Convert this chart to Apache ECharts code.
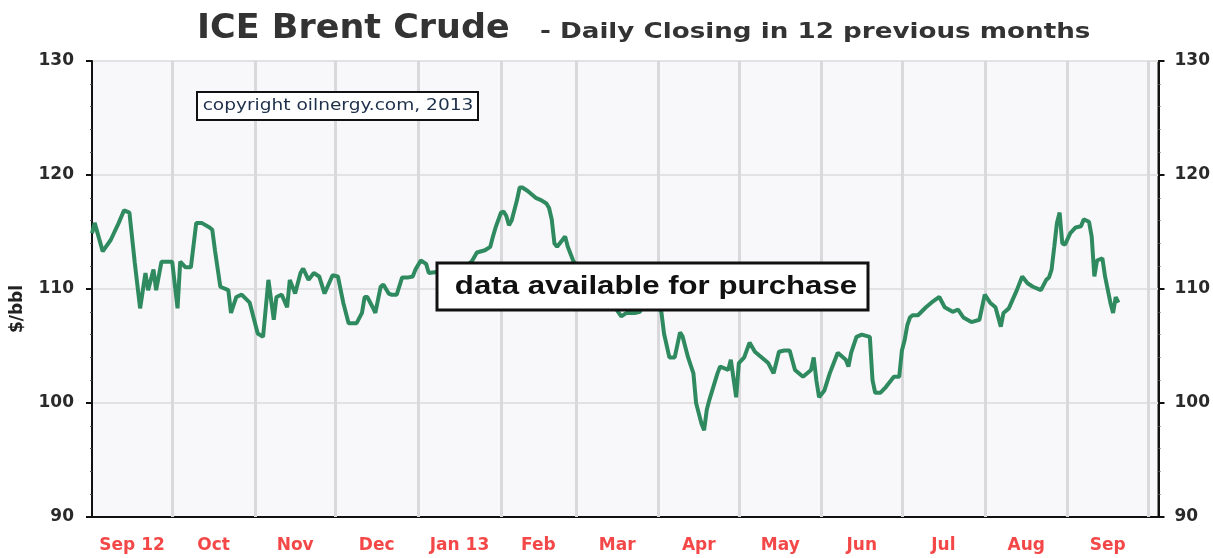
<!DOCTYPE html>
<html>
<head>
<meta charset="utf-8">
<script src="https://cdn.jsdelivr.net/npm/echarts@6/dist/echarts.min.js"></script>
<style>
  html, body { margin: 0; padding: 0; background: #fff; }
  #chart { width: 1213px; height: 558px; }
</style>
</head>
<body>
<div id="chart"></div>
<script>
// month boundaries and the labels shown in the middle of each month
const monthStarts = ['2012-09-01', '2012-10-01', '2012-11-01', '2012-12-01', '2013-01-01', '2013-02-01',
  '2013-03-01', '2013-04-01', '2013-05-01', '2013-06-01', '2013-07-01', '2013-08-01', '2013-09-01', '2013-10-01'];
const monthLabels = ['Sep 12', 'Oct', 'Nov', 'Dec', 'Jan 13', 'Feb', 'Mar', 'Apr', 'May', 'Jun', 'Jul', 'Aug', 'Sep'];
const priceTicks = [90, 100, 110, 120, 130];

// daily closing, $/bbl
const closeDates = [
  '2012-09-01', '2012-09-02', '2012-09-05', '2012-09-08', '2012-09-11', '2012-09-13', '2012-09-15', '2012-09-17',
  '2012-09-19', '2012-09-21', '2012-09-22', '2012-09-24', '2012-09-25', '2012-09-27', '2012-10-01', '2012-10-03',
  '2012-10-04', '2012-10-06', '2012-10-08', '2012-10-10', '2012-10-12', '2012-10-15', '2012-10-16', '2012-10-17',
  '2012-10-19', '2012-10-22', '2012-10-23', '2012-10-25', '2012-10-27', '2012-10-30', '2012-11-02', '2012-11-04',
  '2012-11-06', '2012-11-08', '2012-11-09', '2012-11-11', '2012-11-13', '2012-11-14', '2012-11-16', '2012-11-18',
  '2012-11-19', '2012-11-21', '2012-11-23', '2012-11-25', '2012-11-27', '2012-11-30', '2012-12-02', '2012-12-04',
  '2012-12-06', '2012-12-09', '2012-12-11', '2012-12-12', '2012-12-13', '2012-12-15', '2012-12-16', '2012-12-18',
  '2012-12-19', '2012-12-21', '2012-12-22', '2012-12-24', '2012-12-26', '2012-12-28', '2012-12-30', '2012-12-31',
  '2013-01-02', '2013-01-04', '2013-01-05', '2013-01-08', '2013-01-11', '2013-01-14', '2013-01-17', '2013-01-21',
  '2013-01-23', '2013-01-26', '2013-01-28', '2013-01-29', '2013-01-30', '2013-02-01', '2013-02-02', '2013-02-03',
  '2013-02-04', '2013-02-05', '2013-02-07', '2013-02-08', '2013-02-09', '2013-02-11', '2013-02-12', '2013-02-14',
  '2013-02-16', '2013-02-18', '2013-02-19', '2013-02-20', '2013-02-21', '2013-02-22', '2013-02-24', '2013-02-25',
  '2013-02-26', '2013-02-28', '2013-03-04', '2013-03-07', '2013-03-12', '2013-03-15', '2013-03-18', '2013-03-20',
  '2013-03-23', '2013-03-25', '2013-03-27', '2013-03-29', '2013-04-02', '2013-04-03', '2013-04-05', '2013-04-07',
  '2013-04-09', '2013-04-10', '2013-04-12', '2013-04-14', '2013-04-15', '2013-04-17', '2013-04-18', '2013-04-19',
  '2013-04-20', '2013-04-23', '2013-04-24', '2013-04-27', '2013-04-28', '2013-04-30', '2013-05-01', '2013-05-03',
  '2013-05-05', '2013-05-07', '2013-05-10', '2013-05-12', '2013-05-14', '2013-05-16', '2013-05-18', '2013-05-20',
  '2013-05-22', '2013-05-25', '2013-05-28', '2013-05-29', '2013-05-30', '2013-05-31', '2013-06-02', '2013-06-04',
  '2013-06-05', '2013-06-07', '2013-06-10', '2013-06-11', '2013-06-12', '2013-06-14', '2013-06-16', '2013-06-19',
  '2013-06-20', '2013-06-21', '2013-06-23', '2013-06-25', '2013-06-28', '2013-06-30', '2013-07-01', '2013-07-02',
  '2013-07-03', '2013-07-04', '2013-07-05', '2013-07-07', '2013-07-10', '2013-07-12', '2013-07-15', '2013-07-17',
  '2013-07-20', '2013-07-22', '2013-07-24', '2013-07-27', '2013-07-30', '2013-08-01', '2013-08-03', '2013-08-05',
  '2013-08-07', '2013-08-08', '2013-08-10', '2013-08-13', '2013-08-15', '2013-08-17', '2013-08-19', '2013-08-22',
  '2013-08-24', '2013-08-25', '2013-08-26', '2013-08-27', '2013-08-28', '2013-08-29', '2013-08-30', '2013-08-31',
  '2013-09-02', '2013-09-04', '2013-09-06', '2013-09-07', '2013-09-09', '2013-09-10', '2013-09-11', '2013-09-12',
  '2013-09-14', '2013-09-15', '2013-09-17', '2013-09-18', '2013-09-19', '2013-09-20'
];
const closePrices = [
  114.9, 115.8, 113.3, 114.3, 115.8, 116.9, 116.7, 112.3,
  108.3, 111.4, 109.9, 111.7, 109.9, 112.4, 112.4, 108.3,
  112.4, 111.9, 111.9, 115.8, 115.8, 115.4, 115.2, 113.4,
  110.2, 109.9, 107.9, 109.3, 109.5, 108.8, 106.1, 105.8,
  110.8, 107.3, 109.3, 109.5, 108.4, 110.8, 109.6, 111.4,
  111.8, 110.8, 111.4, 111.1, 109.6, 111.2, 111.1, 108.8,
  107.0, 107.0, 107.9, 109.3, 109.3, 108.4, 107.9, 110.2,
  110.4, 109.6, 109.5, 109.5, 111.0, 111.0, 111.1, 111.7,
  112.5, 112.2, 111.4, 111.5, 111.2, 111.8, 111.6, 112.4,
  113.2, 113.4, 113.7, 114.6, 115.4, 116.7, 116.8, 116.4,
  115.6, 116.0, 117.8, 118.9, 118.9, 118.6, 118.4, 118.0,
  117.8, 117.5, 117.1, 116.1, 114.0, 113.7, 114.3, 114.6,
  113.7, 112.5, 111.0, 110.3, 109.2, 108.6, 107.6, 107.9,
  107.9, 108.0, 109.2, 109.8, 108.0, 106.1, 104.0, 104.0,
  106.2, 105.8, 104.0, 102.6, 100.0, 98.2, 97.6, 99.4,
  100.3, 102.6, 103.2, 102.9, 103.8, 100.5, 103.5, 104.0,
  105.3, 104.5, 103.9, 103.5, 102.6, 104.5, 104.6, 104.6,
  102.9, 102.3, 102.9, 104.0, 102.0, 100.5, 101.1, 102.6,
  103.2, 104.4, 103.8, 103.2, 104.4, 105.8, 106.0, 105.8,
  102.0, 100.9, 100.9, 101.4, 102.3, 102.3, 104.6, 105.5,
  106.8, 107.5, 107.7, 107.7, 108.4, 108.8, 109.3, 108.4,
  108.0, 108.2, 107.5, 107.1, 107.3, 109.5, 108.8, 108.4,
  106.7, 107.9, 108.3, 109.9, 111.1, 110.5, 110.2, 109.9,
  110.8, 111.0, 111.7, 113.7, 115.8, 116.7, 114.0, 113.9,
  114.9, 115.4, 115.5, 116.1, 115.9, 114.6, 111.1, 112.5,
  112.7, 111.1, 108.8, 107.9, 109.3, 108.8
];

const toTime = (s) => new Date(s + 'T00:00:00').getTime();
const startTimes = monthStarts.map(toTime);
// label positions: the middle of each month
const labelTimes = monthLabels.map((_, i) => (startTimes[i] + startTimes[i + 1]) / 2);

const chart = echarts.init(document.getElementById('chart'));

const yAxisBase = {
  type: 'value',
  min: 90,
  max: 130,
  interval: 10,
  axisLine: { show: true, lineStyle: { color: '#111', width: 2 } },
  axisTick: { show: true, inside: false, length: 6, lineStyle: { color: '#111', width: 2 } },
  minorTick: { show: true, splitNumber: 5, length: 2, lineStyle: { color: '#555' } },
  axisLabel: {
    color: '#2a2a2a',
    fontFamily: 'DejaVu Sans',
    fontWeight: 'bold',
    fontSize: 17,
    margin: 18,
    formatter: (v) => (priceTicks.includes(v) ? String(v) : '')
  }
};

const option = {
  animation: false,
  backgroundColor: '#ffffff',
  grid: {
    left: 92,
    right: 53,
    top: 61,
    bottom: 41,
    show: true,
    backgroundColor: '#f8f8fa',
    borderColor: '#111',
    borderWidth: 2
  },
  xAxis: {
    type: 'value',
    min: toTime('2012-09-01'),
    max: toTime('2013-10-05'),
    axisLine: { show: true, lineStyle: { color: '#111', width: 2 } },
    axisTick: { show: false },
    splitLine: { show: false },
    axisLabel: {
      customValues: labelTimes,
      color: '#f44848',
      fontFamily: 'DejaVu Sans',
      fontWeight: 'bold',
      fontSize: 17,
      margin: 20,
      formatter: (v) => {
        const i = labelTimes.findIndex((t) => Math.abs(t - v) < 864e5);
        return i >= 0 ? monthLabels[i] : '';
      }
    }
  },
  yAxis: [
    Object.assign({}, yAxisBase, {
      position: 'left',
      name: '$/bbl',
      nameLocation: 'middle',
      nameRotate: 90,
      nameGap: 66,
      nameTextStyle: {
        fontFamily: 'DejaVu Sans',
        fontWeight: 'bold',
        fontSize: 17,
        color: '#222',
        padding: [0, 40, 0, 0]
      },
      splitLine: { show: true, lineStyle: { color: '#e2e2e4', width: 2 } }
    }),
    Object.assign({}, yAxisBase, {
      position: 'right',
      axisLabel: Object.assign({}, yAxisBase.axisLabel, { margin: 16 }),
      splitLine: { show: false }
    })
  ],
  series: [
    {
      name: 'ICE Brent',
      type: 'line',
      yAxisIndex: 0,
      showSymbol: false,
      smooth: false,
      z: 3,
      lineStyle: { color: '#2f8a60', width: 4 },
      itemStyle: { color: '#2f8a60' },
      data: closeDates.map((d, i) => [toTime(d), closePrices[i]]),
      // month boundary grid lines
      markLine: {
        silent: true,
        symbol: 'none',
        z: 1,
        label: { show: false },
        lineStyle: { color: '#d9d9dc', width: 3, type: 'solid' },
        data: startTimes.slice(1).map((t) => ({ xAxis: t }))
      }
    }
  ],
  graphic: [
    {
      type: 'text',
      x: 197,
      y: 29,
      z: 100,
      scaleX: 1.06,
      style: {
        text: 'ICE Brent Crude',
        fontFamily: 'DejaVu Sans',
        fontWeight: 'bold',
        fontSize: 33,
        fill: '#333',
        align: 'left',
        verticalAlign: 'middle'
      }
    },
    {
      type: 'text',
      x: 540,
      y: 32,
      z: 100,
      scaleX: 1.19,
      style: {
        text: '- Daily Closing in 12 previous months',
        fontFamily: 'DejaVu Sans',
        fontWeight: 'bold',
        fontSize: 22,
        fill: '#333',
        align: 'left',
        verticalAlign: 'middle'
      }
    },
    {
      type: 'rect',
      z: 100,
      shape: { x: 197, y: 92, width: 281, height: 28 },
      style: { fill: '#fff', stroke: '#111', lineWidth: 2 }
    },
    {
      type: 'text',
      z: 101,
      x: 338,
      y: 106,
      scaleX: 1.16,
      style: {
        text: 'copyright oilnergy.com, 2013',
        fontFamily: 'DejaVu Sans',
        fontSize: 16,
        fill: '#1d2f4a',
        align: 'center',
        verticalAlign: 'middle'
      }
    },
    {
      type: 'rect',
      z: 100,
      shape: { x: 437, y: 263, width: 431, height: 47 },
      style: { fill: '#fff', stroke: '#111', lineWidth: 3 }
    },
    {
      type: 'text',
      z: 101,
      x: 656,
      y: 286.5,
      scaleX: 1.2,
      style: {
        text: 'data available for purchase',
        fontFamily: 'Liberation Sans',
        fontWeight: 'bold',
        fontSize: 26,
        fill: '#111',
        align: 'center',
        verticalAlign: 'middle'
      }
    }
  ]
};

chart.setOption(option);
</script>
</body>
</html>
